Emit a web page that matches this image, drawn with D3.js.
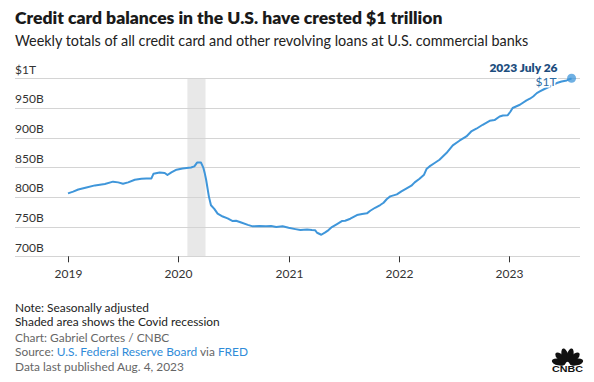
<!DOCTYPE html>
<html><head><meta charset="utf-8">
<script src="https://cdn.jsdelivr.net/npm/d3@7"></script>
<style>
body{margin:0;background:#fff;}
svg{display:block;font-family:Lato,"Open Sans",sans-serif;}
</style></head>
<body><svg id="c" width="594" height="382"></svg>
<script>
const dates = ["2019-01-02","2019-01-19","2019-02-05","2019-03-04","2019-04-01","2019-05-04","2019-05-31","2019-06-17","2019-07-03","2019-07-20","2019-08-11","2019-09-02","2019-09-18","2019-10-05","2019-10-12","2019-11-01","2019-11-18","2019-11-27","2019-12-10","2019-12-27",
"2020-01-16","2020-02-13","2020-02-24","2020-03-04","2020-03-17","2020-03-25","2020-03-29","2020-04-03","2020-04-12","2020-04-19","2020-04-30","2020-05-11","2020-05-28","2020-06-13","2020-06-30","2020-07-11","2020-07-28","2020-08-19","2020-09-04","2020-09-26","2020-10-18","2020-11-04","2020-11-21","2020-12-12",
"2021-01-01","2021-01-23","2021-02-09","2021-03-03","2021-03-19","2021-03-30","2021-04-05","2021-04-19","2021-05-02","2021-05-13","2021-05-24","2021-06-10","2021-06-26","2021-07-07","2021-07-24","2021-08-15","2021-09-01","2021-09-17","2021-09-28","2021-10-14","2021-10-31","2021-11-11","2021-11-22","2021-12-03","2021-12-25",
"2022-01-09","2022-01-25","2022-02-11","2022-02-22","2022-03-10","2022-03-25","2022-04-02","2022-04-12","2022-04-29","2022-05-15","2022-06-07","2022-06-28","2022-07-20","2022-08-12","2022-08-28","2022-09-14","2022-10-05","2022-10-28","2022-11-13","2022-11-30","2022-12-11","2022-12-27",
"2023-01-05","2023-01-12","2023-02-05","2023-02-27","2023-03-10","2023-03-21","2023-04-02","2023-04-12","2023-04-29","2023-05-15","2023-06-07","2023-06-23","2023-07-10","2023-07-26"];
const balances = [806,809,812.5,816,819.5,822,825.8,824.6,822.4,824.6,829,830.8,831.3,831.3,839.2,841.4,840.4,837,841.4,846,
848,849.8,851.5,858,858,849,841,829,801,786,780,772,767,764,759.4,760,757,753,750.5,751,750.5,751,749.3,750.5,
748,745.8,744.2,745.3,744.2,743.7,739.7,736.3,740.4,744.2,749.3,754.4,759.4,760,763.3,769.5,771.2,772.4,776.8,781.8,786.4,790.2,796.6,801,804.4,
809.4,814,819,824.6,830.8,837.5,847,851.5,857.2,862.8,874,887,894.8,902,910.4,915,921.7,928.4,929.6,935.6,937.3,937.8,
944,950,955.4,962.7,965.6,969.4,975,977.8,982.4,986,992,994.7,996.4,1000];
const yTicks = [700,750,800,850,900,950,1000];
const yTickLabels = ["700B","750B","800B","850B","900B","950B","$1T"];
const xTicks = ["2019-01-01","2020-01-01","2021-01-01","2022-01-01","2023-01-01"];
const xTickLabels = ["2019","2020","2021","2022","2023"];
const recession = ["2020-02-01","2020-04-01"];

const parse = d3.timeParse("%Y-%m-%d");
const data = dates.map((d,i)=>({date:parse(d), value:balances[i]}));
const svg = d3.select("#c");
const x = d3.scaleTime().domain([parse("2019-01-01"),parse("2023-01-01")]).range([67.7,509.3]);
const y = d3.scaleLinear().domain([700,1000]).range([256.3,78.3]);

svg.append("text").attr("x",15).attr("y",24).attr("font-size",17.5).attr("font-weight",800).attr("fill","#1a1a1a").text("Credit card balances in the U.S. have crested $1 trillion");
svg.append("text").attr("x",15).attr("y",46).attr("font-size",14.4).attr("fill","#222").text("Weekly totals of all credit card and other revolving loans at U.S. commercial banks");

// recession shading
svg.append("rect").attr("x",x(parse(recession[0]))).attr("width",x(parse(recession[1]))-x(parse(recession[0])))
  .attr("y",y(1000)).attr("height",y(700)-y(1000)).attr("fill","#e8e8e8");

// gridlines + labels
const g = svg.append("g");
yTicks.forEach((t,i)=>{
  g.append("line").attr("x1",15).attr("x2",580).attr("y1",Math.round(y(t))+0.5).attr("y2",Math.round(y(t))+0.5).attr("stroke","#d4d4d4").attr("stroke-width",1);
  g.append("text").attr("x",15).attr("y",y(t)-4.5).attr("font-size",12).attr("fill","#333").text(yTickLabels[i]);
});
// x axis ticks
xTicks.forEach((t,i)=>{
  const xx = Math.round(x(parse(t)))+0.5;
  g.append("line").attr("x1",xx).attr("x2",xx).attr("y1",y(700)).attr("y2",y(700)+6).attr("stroke","#333").attr("stroke-width",1);
  g.append("text").attr("x",xx).attr("y",278).attr("text-anchor","middle").attr("font-size",12).attr("fill","#333").text(xTickLabels[i]);
});

const line = d3.line().x(d=>x(d.date)).y(d=>y(d.value)).curve(d3.curveLinear);
svg.append("path").datum(data).attr("d",line).attr("fill","none").attr("stroke","#3f96da").attr("stroke-width",2).attr("stroke-linejoin","round");

const last = data[data.length-1];
svg.append("circle").attr("cx",x(last.date)).attr("cy",y(last.value)).attr("r",4.5).attr("fill","#3f96da").attr("fill-opacity",0.75);
svg.append("text").attr("x",x(last.date)-14).attr("y",y(last.value)-6).attr("text-anchor","end").attr("font-size",12).attr("font-weight",800).attr("fill","#1d4e7e").text("2023 July 26");
svg.append("text").attr("x",x(last.date)-15).attr("y",y(last.value)+8).attr("text-anchor","end").attr("font-size",12).attr("fill","#2e6da4")
  .attr("stroke","#fff").attr("stroke-width",3).attr("paint-order","stroke").text("$1T");

// footer
const fs = 11.9;
svg.append("text").attr("x",15).attr("y",312).attr("font-size",fs).attr("fill","#222").text("Note: Seasonally adjusted");
svg.append("text").attr("x",15).attr("y",326).attr("font-size",fs).attr("fill","#222").text("Shaded area shows the Covid recession");
svg.append("text").attr("x",15).attr("y",341.5).attr("font-size",fs).attr("fill","#666").text("Chart: Gabriel Cortes / CNBC");
const src = svg.append("text").attr("x",15).attr("y",356).attr("font-size",fs).attr("fill","#666");
src.append("tspan").text("Source: ");
src.append("tspan").attr("fill","#2f8bd8").text("U.S. Federal Reserve Board");
src.append("tspan").text(" via ");
src.append("tspan").attr("fill","#2f8bd8").text("FRED");
svg.append("text").attr("x",15).attr("y",370.5).attr("font-size",fs).attr("fill","#666").text("Data last published Aug. 4, 2023");

// CNBC peacock logo
const logo = svg.append("g").attr("transform","translate(567.5,364)");
const angles = [-78,-47,-16,16,47,78];
angles.forEach(a=>{
  logo.append("ellipse").attr("cx",0).attr("cy",-9).attr("rx",3.3).attr("ry",7).attr("fill","#111")
    .attr("transform",`rotate(${a})`);
});
logo.append("text").attr("x",0).attr("y",7.5).attr("text-anchor","middle").attr("font-family","'Liberation Sans',Arial,sans-serif")
  .attr("font-size",8.5).attr("font-weight",900).attr("fill","#111").attr("textLength",31).attr("lengthAdjust","spacingAndGlyphs").text("CNBC");
</script></body></html>
